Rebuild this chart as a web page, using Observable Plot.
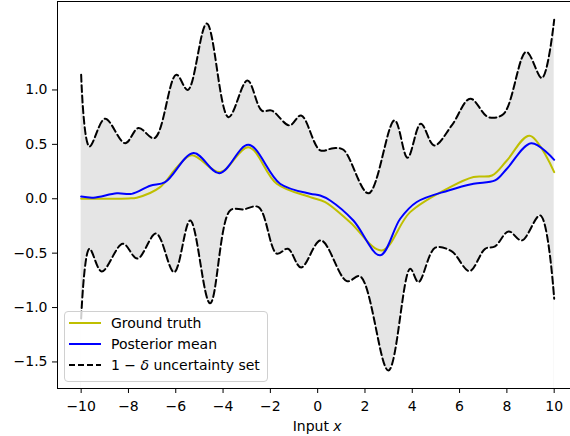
<!DOCTYPE html>
<html><head><meta charset="utf-8">
<script src="https://cdn.jsdelivr.net/npm/d3@7"></script>
<script src="https://cdn.jsdelivr.net/npm/@observablehq/plot@0.6"></script>
<style>
body{margin:0;background:#fff;}
#wrap{position:relative;width:570px;height:436px;font-family:"DejaVu Sans";overflow:hidden;}
#legend{position:absolute;left:64px;top:311px;width:204px;height:71px;background:rgba(255,255,255,0.8);border:1px solid #d0d0d0;border-radius:4px;box-sizing:border-box;font-size:14px;color:#000;}
.row{position:absolute;left:4px;height:20px;display:flex;align-items:center;white-space:nowrap;}
.row svg{margin-right:10px;}
#xlabel{position:absolute;top:418px;font-size:14px;color:#000;transform:translateX(-50%);white-space:nowrap;}
</style></head>
<body>
<div id="wrap"></div>
<script>
// axis ticks and limits
const xTicks = [-10, -8, -6, -4, -2, 0, 2, 4, 6, 8, 10];
const yTicks = [-1.5, -1.0, -0.5, 0.0, 0.5, 1.0];
const xLimits = [-11, 10.69];
const yLimits = [-1.744, 1.813];

// upper 1-delta bound
const upperX = [-10.0, -9.65, -8.99, -8.14, -7.58, -6.9, -5.98, -5.49, -4.69, -3.77, -2.97, -2.36, -1.94, -1.19, -0.7, 0.106, 0.67, 1.09, 2.15, 3.25, 3.80, 4.36, 4.93, 5.67, 6.45, 7.22, 7.86, 8.82, 9.48, 10.0];
const upperY = [1.14, 0.48, 0.735, 0.51, 0.65, 0.557, 1.14, 1.0, 1.61, 0.75, 1.087, 0.81, 0.81, 0.674, 0.766, 0.445, 0.465, 0.45, 0.05, 0.72, 0.377, 0.69, 0.49, 0.674, 0.92, 0.75, 0.78, 1.35, 1.11, 1.645];

// lower 1-delta bound
const lowerX = [-10.0, -9.65, -9.13, -8.24, -7.62, -6.83, -6.07, -5.39, -4.55, -3.70, -3.14, -2.50, -1.73, -1.26, -0.7, 0.135, 1.23, 1.80, 2.99, 3.91, 4.26, 4.97, 5.67, 6.42, 7.08, 7.5, 8.07, 8.63, 9.41, 10.0];
const lowerY = [-1.1, -0.46, -0.668, -0.414, -0.55, -0.32, -0.675, -0.2, -0.96, -0.107, -0.098, -0.077, -0.505, -0.46, -0.632, -0.383, -0.757, -0.714, -1.578, -0.643, -0.766, -0.45, -0.484, -0.665, -0.46, -0.438, -0.30, -0.383, -0.153, -0.919];

// ground truth
const truthX = [-10.0, -9.0, -8.0, -7.65, -6.66, -5.95, -5.32, -4.12, -2.93, -1.73, -0.32, 0.32, 1.37, 2.71, 3.91, 5.6, 6.59, 7.37, 8.0, 8.96, 10.0];
const truthY = [0.0, 0.0, 0.003, 0.01, 0.107, 0.29, 0.40, 0.245, 0.474, 0.138, 0.015, -0.03, -0.215, -0.475, -0.123, 0.107, 0.2, 0.214, 0.352, 0.58, 0.245];

// posterior mean
const meanX = [-10.0, -9.48, -8.49, -7.86, -7.08, -6.45, -5.25, -4.15, -2.93, -1.59, -0.32, 0.106, 0.53, 1.51, 2.64, 3.49, 4.19, 5.53, 6.59, 7.5, 8.0, 9.03, 10.0];
const meanY = [0.02, 0.01, 0.05, 0.045, 0.12, 0.152, 0.42, 0.235, 0.496, 0.138, 0.046, 0.03, -0.016, -0.2, -0.52, -0.184, -0.03, 0.076, 0.138, 0.168, 0.276, 0.51, 0.358];

const legendLabels = ["Ground truth", "Posterior mean", "1 − <i>δ</i> uncertainty set"];
const legendColors = ["#bfbf00", "#0000ff", "#000000"];
const legendDash = [null, null, "6,3"];

const pts = (xs, ys) => xs.map((x, i) => ({x, y: ys[i]}));
const upper = pts(upperX, upperY);
const lower = pts(lowerX, lowerY);
const truth = pts(truthX, truthY);
const mean = pts(meanX, meanY);
const curve = "catmull-rom";

const plot = Plot.plot({
  width: 570, height: 436,
  marginLeft: 57, marginRight: 0, marginTop: 1, marginBottom: 48,
  style: {fontFamily: "DejaVu Sans", fontSize: "14px", color: "black", background: "white"},
  x: {domain: xLimits},
  y: {domain: yLimits},
  marks: [
    Plot.areaY(upper, {x: "x", y1: yLimits[0], y2: "y", fill: "#e5e5e5", curve}),
    Plot.areaY(lower, {x: "x", y1: yLimits[0], y2: "y", fill: "white", curve}),
    Plot.line(truth, {x: "x", y: "y", stroke: legendColors[0], strokeWidth: 2, curve}),
    Plot.line(mean, {x: "x", y: "y", stroke: legendColors[1], strokeWidth: 2, curve}),
    Plot.line(upper, {x: "x", y: "y", stroke: legendColors[2], strokeWidth: 2, strokeDasharray: "7,3.5", curve}),
    Plot.line(lower, {x: "x", y: "y", stroke: legendColors[2], strokeWidth: 2, strokeDasharray: "7,3.5", curve}),
    Plot.axisX({ticks: xTicks, tickSize: 5, tickPadding: 8, label: null, tickFormat: d3.format("d")}),
    Plot.axisY({ticks: yTicks, tickSize: 5, tickPadding: 5, label: null, tickFormat: d3.format(".1f")}),
    Plot.ruleX([xLimits[0]], {stroke: "black", strokeWidth: 1}),
    Plot.ruleY([yLimits[0]], {stroke: "black", strokeWidth: 1}),
    Plot.ruleY([yLimits[1]], {stroke: "black", strokeWidth: 1})
  ]
});

const wrap = document.getElementById("wrap");
wrap.appendChild(plot);

// x-axis label
const xl = document.createElement("div");
xl.id = "xlabel";
xl.style.left = plot.scale("x").apply(0) + "px";
xl.innerHTML = "Input <i>x</i>";
wrap.appendChild(xl);

// legend
const lg = document.createElement("div");
lg.id = "legend";
const rowTops = [1, 22, 43];
legendLabels.forEach((lab, i) => {
  const r = document.createElement("div");
  r.className = "row";
  r.style.top = rowTops[i] + "px";
  const dash = legendDash[i] ? `stroke-dasharray="${legendDash[i]}"` : "";
  r.innerHTML = `<svg width="32" height="6"><line x1="0" y1="3" x2="32" y2="3" stroke="${legendColors[i]}" stroke-width="2" ${dash}/></svg><span>${lab}</span>`;
  lg.appendChild(r);
});
wrap.appendChild(lg);
</script>
</body></html>
